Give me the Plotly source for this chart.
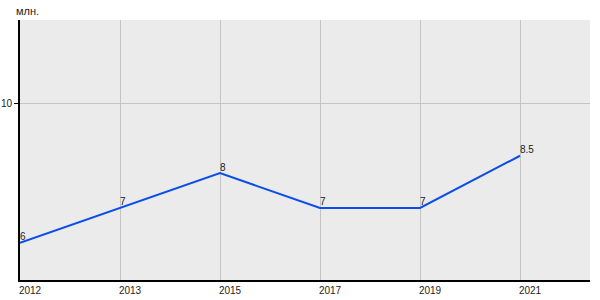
import plotly.graph_objects as go

years = ["2012", "2013", "2015", "2017", "2019", "2021"]
values = [6, 7, 8, 7, 7, 8.5]
value_labels = ["6", "7", "8", "7", "7", "8.5"]
y_ticks = [10]
y_unit = "млн."

xpos = list(range(len(years)))

fig = go.Figure()
fig.add_trace(go.Scatter(
    x=xpos, y=values, mode="lines+text",
    text=value_labels, textposition="top right",
    textfont=dict(family="Liberation Sans, Arial", size=10, color="#222222"),
    line=dict(color="#0a4de8", width=2),
    marker=dict(size=1),
    cliponaxis=False, hoverinfo="skip",
))

fig.update_layout(
    width=600, height=300,
    margin=dict(l=20, r=10, t=20, b=20),
    paper_bgcolor="white", plot_bgcolor="#ebebeb",
    showlegend=False,
    font=dict(family="Liberation Sans, Arial", size=10, color="#222222"),
    annotations=[dict(text=y_unit, xref="paper", yref="paper", x=-0.0105, y=1.0,
                      xanchor="left", yanchor="bottom", yshift=1, showarrow=False,
                      font=dict(size=11, color="#222222"))],
)
fig.update_xaxes(
    range=[0, 5.7], tickmode="array", tickvals=xpos, ticktext=years,
    showgrid=True, gridcolor="#c4c4c4", gridwidth=1,
    showline=True, linecolor="black", linewidth=2,
    ticks="", ticklabelshift=10, ticklabelstandoff=0, zeroline=False,
    automargin=False,
)
fig.update_yaxes(
    range=[4.93, 12.4], tickmode="array", tickvals=y_ticks,
    showgrid=True, gridcolor="#c4c4c4", gridwidth=1,
    showline=True, linecolor="black", linewidth=2,
    ticks="outside", ticklen=4, tickcolor="black", zeroline=False,
    automargin=False,
)

fig.write_html("out.html")
